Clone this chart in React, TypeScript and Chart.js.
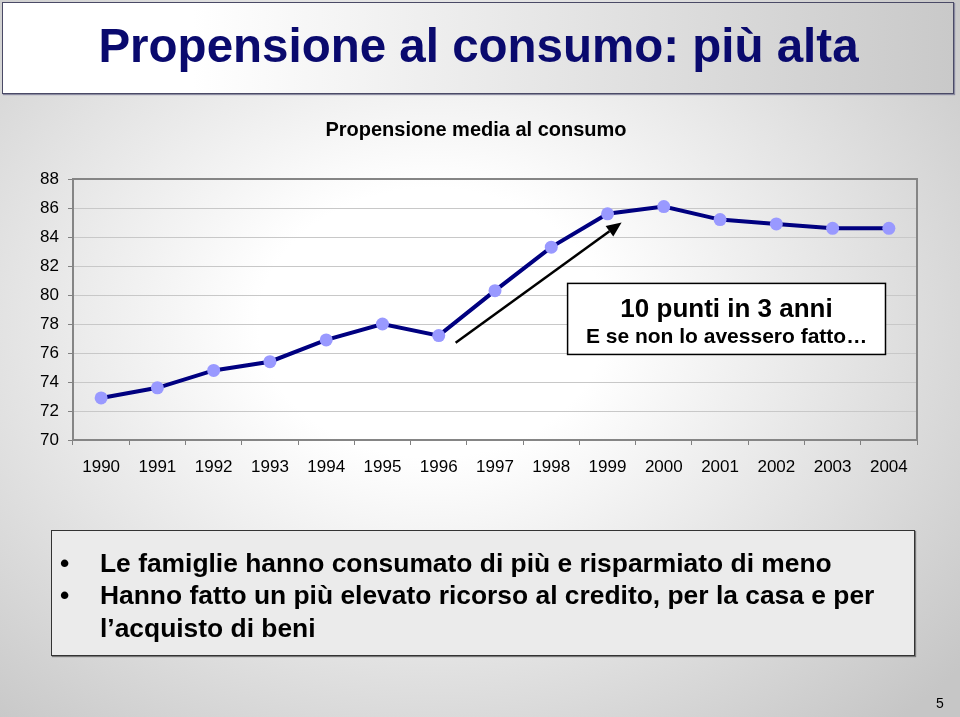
import React, { useEffect, useRef } from "react";
import { Chart, registerables } from "chart.js";

Chart.register(...registerables);

// ---------- data ----------
const years = ["1990", "1991", "1992", "1993", "1994", "1995", "1996", "1997", "1998", "1999", "2000", "2001", "2002", "2003", "2004"];
const propensione = [72.9, 73.6, 74.8, 75.4, 76.9, 78.0, 77.2, 80.3, 83.3, 85.6, 86.1, 85.2, 84.9, 84.6, 84.6];
const yMin = 70;
const yMax = 88;
const yStep = 2;

const slideTitle = "Propensione al consumo: più alta";
const chartTitle = "Propensione media al consumo";
const calloutLines = ["10 punti in 3 anni", "E se non lo avessero fatto…"];
const bulletLines = [
  "Le famiglie hanno consumato di più e risparmiato di meno",
  "Hanno fatto un più elevato ricorso al credito, per la casa e per",
];
const bulletContinuation = "l\u2019acquisto di beni";
const pageNumber = "5";

// annotation geometry in data units (category index, value)
const arrowFrom = [6.3, 76.7];
const arrowTo = [9.25, 85.0];
const calloutBox = { x0: 8.29, x1: 13.94, yTop: 80.8, yBottom: 75.9 };

const FONT = '"Liberation Sans", Arial, Helvetica, sans-serif';

const overlayPlugin = {
  id: "overlay",
  beforeDatasetsDraw(chart: any) {
    const { ctx, chartArea: a } = chart;
    ctx.save();
    ctx.strokeStyle = "#858585";
    ctx.lineWidth = 2;
    ctx.strokeRect(a.left, a.top, a.right - a.left, a.bottom - a.top);
    ctx.restore();
  },
  afterDatasetsDraw(chart: any) {
    const { ctx } = chart;
    const xs = chart.scales.x;
    const ys = chart.scales.y;
    // arrow
    const x0 = xs.getPixelForValue(arrowFrom[0]);
    const y0 = ys.getPixelForValue(arrowFrom[1]);
    const x1 = xs.getPixelForValue(arrowTo[0]);
    const y1 = ys.getPixelForValue(arrowTo[1]);
    const ang = Math.atan2(y1 - y0, x1 - x0);
    const headLen = 15;
    const headHalf = 6.5;
    const bx = x1 - headLen * Math.cos(ang);
    const by = y1 - headLen * Math.sin(ang);
    ctx.save();
    ctx.strokeStyle = "#000";
    ctx.fillStyle = "#000";
    ctx.lineWidth = 2.5;
    ctx.beginPath();
    ctx.moveTo(x0, y0);
    ctx.lineTo(bx, by);
    ctx.stroke();
    ctx.beginPath();
    ctx.moveTo(x1, y1);
    ctx.lineTo(bx + headHalf * Math.sin(ang), by - headHalf * Math.cos(ang));
    ctx.lineTo(bx - headHalf * Math.sin(ang), by + headHalf * Math.cos(ang));
    ctx.closePath();
    ctx.fill();
    // callout box
    const l = xs.getPixelForValue(calloutBox.x0);
    const r = xs.getPixelForValue(calloutBox.x1);
    const t = ys.getPixelForValue(calloutBox.yTop);
    const b = ys.getPixelForValue(calloutBox.yBottom);
    ctx.fillStyle = "#ffffff";
    ctx.fillRect(l, t, r - l, b - t);
    ctx.lineWidth = 1.5;
    ctx.strokeStyle = "#000";
    ctx.strokeRect(l, t, r - l, b - t);
    ctx.fillStyle = "#000";
    ctx.textAlign = "center";
    ctx.textBaseline = "alphabetic";
    const cx = (l + r) / 2;
    ctx.font = `bold 26px ${FONT}`;
    ctx.fillText(calloutLines[0], cx, t + 33.4);
    ctx.font = `bold 21px ${FONT}`;
    ctx.fillText(calloutLines[1], cx, t + 59.4);
    ctx.restore();
  },
};

function LineChart() {
  const ref = useRef<HTMLCanvasElement | null>(null);
  useEffect(() => {
    if (!ref.current) return;
    const chart = new Chart(ref.current, {
      type: "line",
      data: {
        labels: years,
        datasets: [
          {
            data: propensione,
            borderColor: "#000080",
            borderWidth: 4,
            backgroundColor: "#9999ff",
            pointBackgroundColor: "#9999ff",
            pointBorderColor: "#9999ff",
            pointBorderWidth: 0,
            pointRadius: 6.5,
            tension: 0,
            fill: false,
          },
        ],
      },
      options: {
        animation: false,
        responsive: false,
        maintainAspectRatio: false,
        layout: { padding: { left: 35, right: 43, top: 0, bottom: 0 } },
        plugins: {
          legend: { display: false },
          tooltip: { enabled: false },
          title: {
            display: true,
            text: chartTitle,
            color: "#000",
            font: { family: FONT, size: 20, weight: "bold" },
            padding: { top: 18, bottom: 37 },
          },
        },
        scales: {
          x: {
            type: "category",
            offset: true,
            grid: {
              display: true,
              offset: true,
              drawOnChartArea: false,
              drawTicks: true,
              tickLength: 5,
              tickColor: "#808080",
              tickWidth: 1,
            },
            border: { display: false },
            ticks: {
              color: "#000",
              font: { family: FONT, size: 17 },
              padding: 12,
              maxRotation: 0,
              autoSkip: false,
            },
            afterFit(scale: any) {
              scale.height = 80;
            },
          },
          y: {
            min: yMin,
            max: yMax,
            grid: {
              color: "#c8c8c8",
              lineWidth: 1,
              drawTicks: true,
              tickLength: 5,
              tickColor: "#808080",
            },
            border: { display: false },
            ticks: {
              stepSize: yStep,
              color: "#000",
              font: { family: FONT, size: 17 },
              padding: 9,
            },
            afterFit(scale: any) {
              scale.width = 38;
            },
          },
        },
      },
      plugins: [overlayPlugin],
    });
    return () => chart.destroy();
  }, []);
  return (
    <canvas
      ref={ref}
      width={960}
      height={420}
      style={{ position: "absolute", left: 0, top: 100, width: 960, height: 420 }}
    />
  );
}

export default function App() {
  return (
    <div
      style={{
        position: "fixed",
        left: 0,
        top: 0,
        width: 960,
        height: 717,
        overflow: "hidden",
        fontFamily: FONT,
        background:
          "radial-gradient(ellipse 72% 75% at 45% 45%, #ffffff 25%, #c6c6c6 100%)",
      }}
    >
      {/* slide title box */}
      <div
        style={{
          position: "absolute",
          left: 2,
          top: 2,
          width: 950,
          height: 90,
          border: "1.5px solid #4a4a66",
          boxShadow: "1px 1px 1px #8a8aa0",
          background: "linear-gradient(to right, #ffffff 20%, #c9c9c9 100%)",
        }}
      />
      <div
        style={{
          position: "absolute",
          left: 0,
          width: 957,
          top: 21.8,
          textAlign: "center",
          fontSize: 47.5,
          lineHeight: 1,
          fontWeight: "bold",
          color: "#0a0a6e",
          whiteSpace: "nowrap",
        }}
      >
        {slideTitle}
      </div>

      <LineChart />

      {/* bullet box */}
      <div
        style={{
          position: "absolute",
          left: 51,
          top: 530,
          width: 862,
          height: 124,
          background: "#ebebeb",
          border: "1.5px solid #333",
          boxShadow: "1px 1px 1px #777",
        }}
      />
      <div
        style={{
          position: "absolute",
          left: 0,
          top: 546.7,
          fontSize: 26.4,
          lineHeight: "32.5px",
          fontWeight: "bold",
          color: "#000",
          whiteSpace: "nowrap",
        }}
      >
        {bulletLines.map((t, i) => (
          <div key={i} style={{ position: "relative", height: 32.5 }}>
            <span style={{ position: "absolute", left: 60 }}>•</span>
            <span style={{ position: "absolute", left: 100 }}>{t}</span>
          </div>
        ))}
        <div style={{ position: "relative", height: 32.5 }}>
          <span style={{ position: "absolute", left: 100 }}>{bulletContinuation}</span>
        </div>
      </div>

      <div
        style={{
          position: "absolute",
          left: 936,
          top: 696,
          fontSize: 14,
          lineHeight: 1,
          color: "#000",
        }}
      >
        {pageNumber}
      </div>
    </div>
  );
}
